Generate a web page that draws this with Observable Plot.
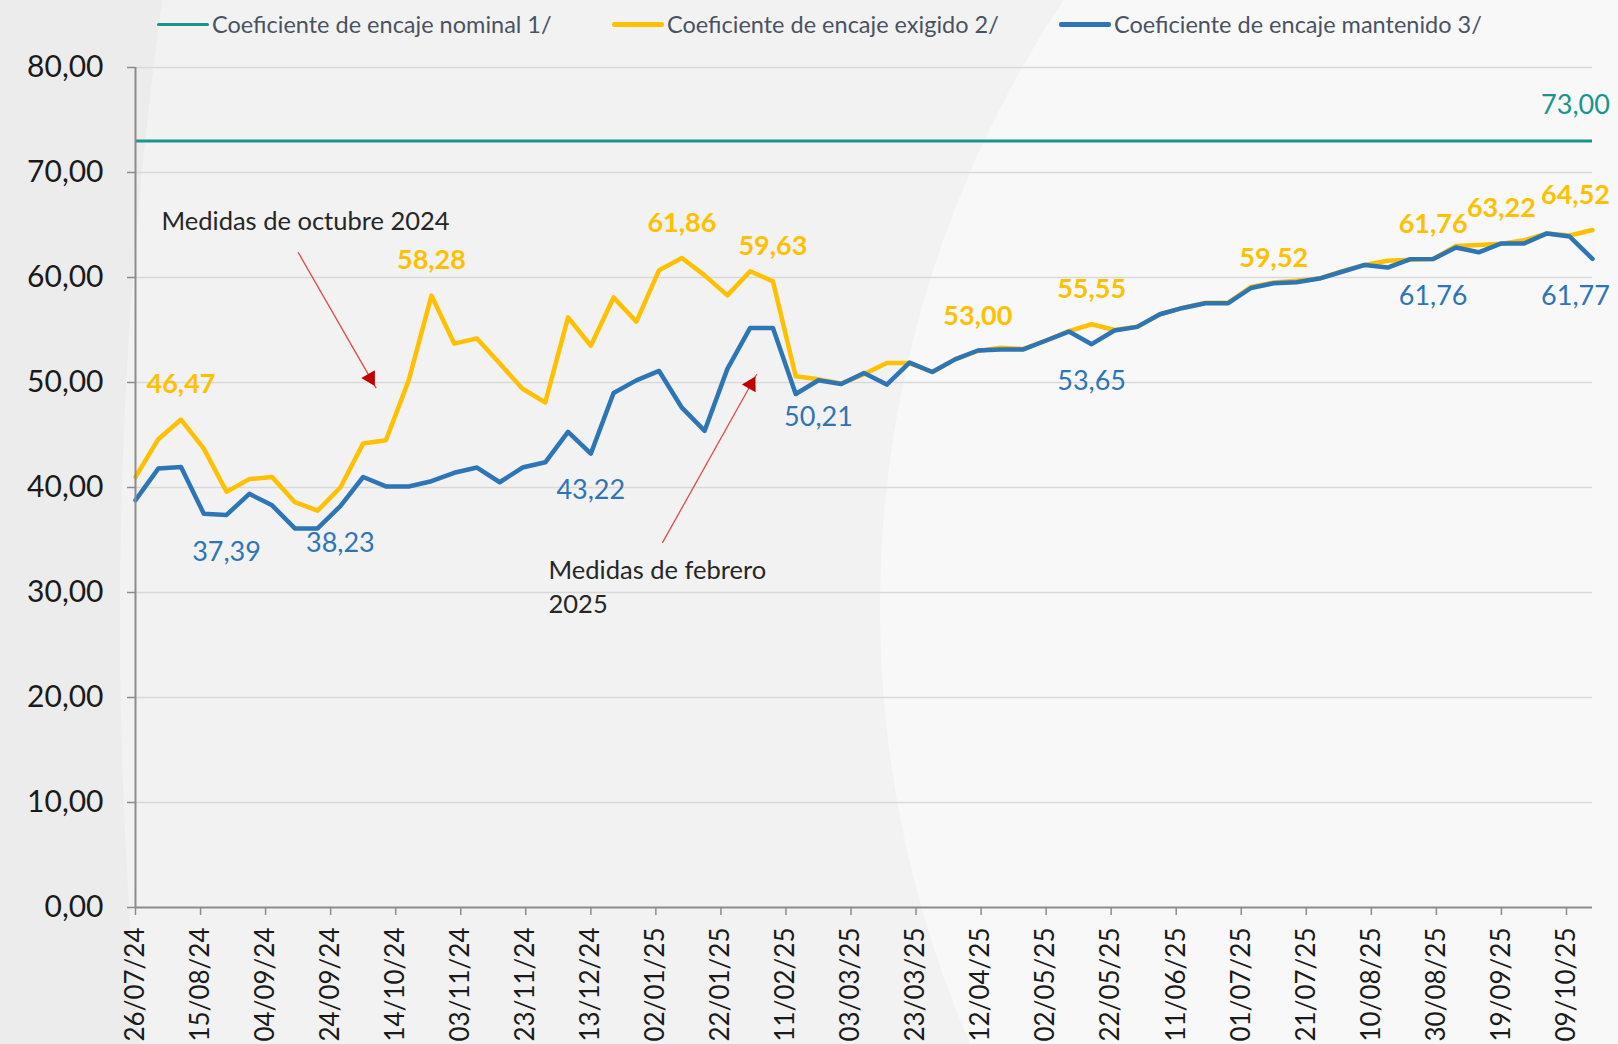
<!DOCTYPE html>
<html>
<head>
<meta charset="utf-8">
<script src="https://cdn.jsdelivr.net/npm/d3@7"></script>
<script src="https://cdn.jsdelivr.net/npm/@observablehq/plot@0.6"></script>
<style>
  html, body { margin: 0; padding: 0; }
  body { width: 1618px; height: 1044px; overflow: hidden; background: #ececec; position: relative; font-family: Lato, "Noto Sans", sans-serif; }
  .bg { position: absolute; border-radius: 50%; }
  #bgA { left: 120px; top: -3960px; width: 9160px; height: 9160px; background: #f2f2f2; }
  #bgB { left: 880px; top: -491px; width: 2198px; height: 2198px; background: #f8f8f8; }
  #wrap { position: relative; z-index: 1; }
  #legend { height: 44px; box-sizing: border-box; padding-top: 4px; display: flex; align-items: center; padding-left: 157px; font-size: 23.5px; color: #4a5262; }
  .item { display: flex; align-items: center; }
  .sw { width: 52px; margin-right: 3px; border-radius: 2px; }
</style>
</head>
<body>
<div class="bg" id="bgA"></div>
<div class="bg" id="bgB"></div>
<div id="wrap">
  <div id="legend"></div>
  <div id="chart"></div>
</div>
<script>
// ---------- data ----------
const dates = [
  "26/07/24","02/08/24","09/08/24","16/08/24","23/08/24","30/08/24","06/09/24","13/09/24","20/09/24","27/09/24",
  "04/10/24","11/10/24","18/10/24","25/10/24","01/11/24","08/11/24","15/11/24","22/11/24","29/11/24","06/12/24",
  "13/12/24","20/12/24","27/12/24","03/01/25","10/01/25","17/01/25","24/01/25","31/01/25","07/02/25","14/02/25",
  "21/02/25","28/02/25","07/03/25","14/03/25","21/03/25","28/03/25","04/04/25","11/04/25","18/04/25","25/04/25",
  "02/05/25","09/05/25","16/05/25","23/05/25","30/05/25","06/06/25","13/06/25","20/06/25","27/06/25","04/07/25",
  "11/07/25","18/07/25","25/07/25","01/08/25","08/08/25","15/08/25","22/08/25","29/08/25","05/09/25","12/09/25",
  "19/09/25","26/09/25","03/10/25","10/10/25","17/10/25"
];
const exigido = [
  41.0, 44.6, 46.47, 43.7, 39.6, 40.8, 41.0, 38.6, 37.8, 40.0,
  44.2, 44.5, 50.2, 58.28, 53.7, 54.2, 51.8, 49.4, 48.1, 56.2,
  53.5, 58.1, 55.8, 60.7, 61.86, 60.2, 58.3, 60.6, 59.63, 50.6,
  50.3, 49.9, 50.8, 51.85, 51.85, 51.0, 52.2, 53.00, 53.3, 53.2,
  54.0, 54.9, 55.55, 55.0, 55.3, 56.5, 57.1, 57.6, 57.6, 59.1,
  59.52, 59.7, 59.9, 60.6, 61.2, 61.6, 61.7, 61.76, 63.0, 63.1,
  63.22, 63.55, 64.2, 64.0, 64.52
];
const mantenido = [
  38.8, 41.8, 41.96, 37.5, 37.39, 39.4, 38.3, 36.1, 36.1, 38.23,
  41.0, 40.1, 40.1, 40.6, 41.4, 41.9, 40.5, 41.9, 42.4, 45.3,
  43.22, 49.0, 50.2, 51.1, 47.6, 45.4, 51.3, 55.2, 55.2, 48.9,
  50.21, 49.85, 50.9, 49.8, 51.9, 51.0, 52.2, 53.05, 53.15, 53.15,
  54.0, 54.85, 53.65, 54.95, 55.3, 56.5, 57.1, 57.55, 57.55, 59.0,
  59.45, 59.55, 59.9, 60.55, 61.2, 60.95, 61.75, 61.76, 62.85, 62.4,
  63.25, 63.25, 64.2, 63.9, 61.77
];
const nominal = 73.00;
const tickLabels = ["26/07/24","15/08/24","04/09/24","24/09/24","14/10/24","03/11/24","23/11/24","13/12/24",
  "02/01/25","22/01/25","11/02/25","03/03/25","23/03/25","12/04/25","02/05/25","22/05/25","11/06/25",
  "01/07/25","21/07/25","10/08/25","30/08/25","19/09/25","09/10/25"];
const yTicks = [0, 10, 20, 30, 40, 50, 60, 70, 80];
const seriesNames = ["Coeficiente de encaje nominal 1/", "Coeficiente de encaje exigido 2/", "Coeficiente de encaje mantenido 3/"];
const exigidoLabelDates = ["09/08/24","25/10/24","10/01/25","07/02/25","11/04/25","16/05/25","11/07/25","29/08/25","19/09/25","17/10/25"];
const mantenidoLabelDates = ["23/08/24","27/09/24","13/12/24","21/02/25","16/05/25","29/08/25","17/10/25"];
const notes = [
  {date: "03/08/24", value: 65.55, text: "Medidas de octubre 2024"},
  {date: "30/11/24", value: 30.74, text: "Medidas de febrero\n2025"}
];
const arrows = [
  {x1: "14/09/24", y1: 62.4, x2: "08/10/24", y2: 49.46},
  {x1: "04/01/25", y1: 34.72, x2: "02/02/25", y2: 50.79}
];

// ---------- styles ----------
const TEAL = "#17958e", YELLOW = "#ffc000", BLUE = "#2e75b6";
const W = 1618, H = 1000, ML = 135, MR = 26, MT = 23, MB = 137;

const parse = d3.utcParse("%d/%m/%y");
const fmt = d3.utcFormat("%d/%m/%y");
const num = v => v.toFixed(2).replace(".", ",");

const rows = dates.map((d, i) => ({date: parse(d), exigido: exigido[i], mantenido: mantenido[i]}));
const xDomain = [parse(dates[0]), parse(dates[dates.length - 1])];
const lastDate = dates[dates.length - 1];

const exLabels = exigidoLabelDates.map(d => ({key: d, date: parse(d), value: exigido[dates.indexOf(d)]}));
const mnLabels = mantenidoLabelDates.map(d => ({key: d, date: parse(d), value: mantenido[dates.indexOf(d)]}));

// legend
const legend = document.getElementById("legend");
const swatches = [[TEAL, 3, 455], [YELLOW, 5, 447], [BLUE, 5, null]];
seriesNames.forEach((name, i) => {
  const it = document.createElement("div");
  it.className = "item";
  if (swatches[i][2]) it.style.width = swatches[i][2] + "px";
  const sw = document.createElement("div");
  sw.className = "sw";
  sw.style.background = swatches[i][0];
  sw.style.height = swatches[i][1] + "px";
  const tx = document.createElement("span");
  tx.textContent = name;
  it.appendChild(sw); it.appendChild(tx);
  legend.appendChild(it);
});

// scales for arrowhead orientation
const sx = Plot.scale({x: {type: "utc", domain: xDomain, range: [ML, W - MR]}});
const sy = Plot.scale({y: {type: "linear", domain: [0, 80], range: [H - MB, MT]}});

const arrowMarks = [];
const R = 7.5, TIP = 1.555 * R;
arrows.forEach(a => {
  const p1 = [sx.apply(parse(a.x1)), sy.apply(a.y1)];
  const p2 = [sx.apply(parse(a.x2)), sy.apply(a.y2)];
  const dxp = p2[0] - p1[0], dyp = p2[1] - p1[1];
  const len = Math.hypot(dxp, dyp);
  const ux = dxp / len, uy = dyp / len;
  const ang = Math.atan2(dxp, -dyp) * 180 / Math.PI;
  arrowMarks.push(Plot.link([a], {x1: d => parse(d.x1), y1: "y1", x2: d => parse(d.x2), y2: "y2", stroke: "#e04a4a", strokeWidth: 1.3}));
  arrowMarks.push(Plot.dot([a], {x: d => parse(d.x2), y: "y2", symbol: "triangle2", r: R, fill: "#c00000", stroke: "none", rotate: ang, dx: -ux * TIP, dy: -uy * TIP}));
});

const chart = Plot.plot({
  width: W, height: H,
  marginLeft: ML, marginRight: MR, marginTop: MT, marginBottom: MB,
  style: {fontFamily: "Lato, 'Noto Sans', sans-serif", background: "transparent", overflow: "visible"},
  x: {type: "utc", domain: xDomain},
  y: {domain: [0, 80]},
  marks: [
    Plot.gridY(yTicks.filter(t => t > 0), {stroke: "#d9d9d9", strokeOpacity: 1, strokeWidth: 1.5}),
    Plot.ruleY([nominal], {stroke: TEAL, strokeWidth: 3}),
    Plot.line(rows, {x: "date", y: "exigido", stroke: YELLOW, strokeWidth: 4.5, strokeLinejoin: "round"}),
    Plot.line(rows, {x: "date", y: "mantenido", stroke: BLUE, strokeWidth: 4.5, strokeLinejoin: "round"}),
    Plot.ruleX([xDomain[0]], {stroke: "#8c8c8c", strokeWidth: 2}),
    Plot.ruleY([0], {stroke: "#8c8c8c", strokeWidth: 2}),
    Plot.axisY(yTicks, {tickFormat: num, fontSize: 30, tickSize: 8, tickPadding: 24, stroke: "#8c8c8c", fill: "#1a1a1a", label: null, strokeWidth: 1.5}),
    Plot.axisX(tickLabels.map(parse), {tickFormat: fmt, tickRotate: -90, fontSize: 26, tickSize: 8, tickPadding: 12, stroke: "#8c8c8c", fill: "#1a1a1a", label: null, strokeWidth: 1.5}),
    // data labels
    Plot.text(exLabels.filter(d => d.key !== "11/07/25" && d.key !== lastDate), {x: "date", y: "value", text: d => num(d.value), dy: -35, fill: YELLOW, fontSize: 27, fontWeight: 700}),
    Plot.text(exLabels.filter(d => d.key === "11/07/25"), {x: "date", y: "value", text: d => num(d.value), dy: -24, fill: YELLOW, fontSize: 27, fontWeight: 700}),
    Plot.text(exLabels.filter(d => d.key === lastDate), {x: "date", y: "value", text: d => num(d.value), dy: -35, dx: -17, fill: YELLOW, fontSize: 27, fontWeight: 700}),
    Plot.text(mnLabels.filter(d => d.key !== lastDate), {x: "date", y: "value", text: d => num(d.value), dy: 37, fill: BLUE, fontSize: 27}),
    Plot.text(mnLabels.filter(d => d.key === lastDate), {x: "date", y: "value", text: d => num(d.value), dy: 37, dx: -17, fill: BLUE, fontSize: 27}),
    Plot.text([{date: xDomain[1], value: nominal}], {x: "date", y: "value", text: d => num(d.value), dy: -36, dx: -17, fill: TEAL, fontSize: 27}),
    // annotations
    Plot.text(notes, {x: d => parse(d.date), y: "value", text: "text", textAnchor: "start", fontSize: 25.5, fill: "#262626", lineHeight: 1.34}),
    ...arrowMarks
  ]
});
document.getElementById("chart").appendChild(chart);
</script>
</body>
</html>
